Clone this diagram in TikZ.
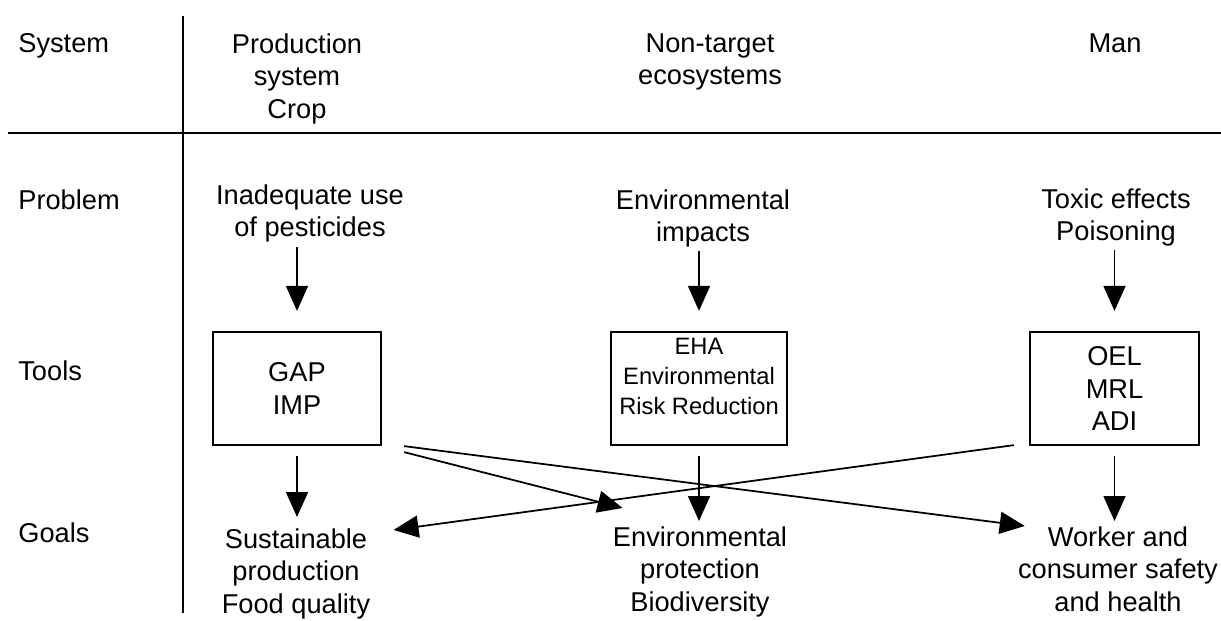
\documentclass[tikz,border=0pt]{standalone}
\usepackage{fontspec}
\setmainfont{Liberation Sans}
\usetikzlibrary{arrows.meta,calc}

\tikzset{
  lbl/.style={inner sep=0pt, anchor=north west, font=\fontsize{15.5}{18.5}\selectfont},
  txt/.style={inner sep=0pt, anchor=north, align=center, font=\fontsize{15.5}{18.5}\selectfont},
  toolbox/.style={draw, line width=1.3pt, minimum height=2.26cm, align=center, font=\fontsize{15.5}{18.5}\selectfont},
  arr/.style={-{Triangle[length=0.5cm,width=0.44cm]}, line width=1pt},
}

\begin{document}
\begin{tikzpicture}[x=0.02cm, y=-0.02cm]
\useasboundingbox (0,0) rectangle (1221,621);
\draw[line width=1.4pt] (8,133) -- (1221,133);
\draw[line width=1.4pt] (183,16) -- (183,613);

% row labels
\node[lbl] (sys) at (18,33) {System};
\node[lbl] (prob) at (18,189) {Problem};
\node[lbl] (tools) at (18,360) {Tools};
\node[lbl] (goals) at (18,522) {Goals};

% header
\node[txt] (hd1) at (297,33) {Production\\system\\Crop};
\node[txt] (hd2) at (710,33) {Non-target\\ecosystems};
\node[txt] (hd3) at (1115,33) {Man};

% problems
\node[txt] (prob1) at (310,184) {Inadequate use\\of pesticides};
\node[txt] (prob2) at (703,189) {Environmental\\impacts};
\node[txt] (prob3) at (1116,188) {Toxic effects\\Poisoning};

% tools
\node[toolbox, minimum width=3.36cm] (box1) at (297,388.5) {GAP\\IMP};
\node[toolbox, minimum width=3.52cm] (box2) at (699,388.5) {};
\node[txt, font=\fontsize{13.5}{17}\selectfont] (eha) at (699,338) {EHA\\Environmental\\Risk Reduction};
\node[toolbox, minimum width=3.38cm] (box3) at (1114.5,388.5) {OEL\\MRL\\ADI};

% goals
\node[txt] (goal1) at (296,528) {Sustainable\\production\\Food quality};
\node[txt] (goal2) at (700,526) {Environmental\\protection\\Biodiversity};
\node[txt] (goal3) at (1118,526) {Worker and\\consumer safety\\and health};

\draw[arr, shorten <=0.08cm, shorten >=0.4cm] (prob1.south -| box1.north) -- (box1.north);
\draw[arr, shorten <=0.06cm, shorten >=0.4cm] (prob2.south -| box2.north) -- (box2.north);
\draw[arr, shorten <=0.06cm, shorten >=0.4cm] (prob3.south -| box3.north) -- (box3.north);

\draw[arr, shorten <=0.2cm, shorten >=0.22cm] (box1.south) -- (box1.south |- goal1.north);
\draw[arr, shorten <=0.2cm, shorten >=0.1cm] (box2.south) -- (box2.south |- goal2.north);
\draw[arr, shorten <=0.2cm, shorten >=0.1cm] (box3.south) -- (box3.south |- goal3.north);

\draw[arr] ($(box1.south east)+(22,0)$) -- ($(goal3.north west)+(7,0)$);
\draw[arr] ($(box1.south east)+(22,6)$) -- ($(goal2.north west)+(10,-18)$);
\draw[arr] ($(box3.south west)+(-15,-1)$) -- ($(goal1.north east)+(23,2)$);
\end{tikzpicture}
\end{document}
